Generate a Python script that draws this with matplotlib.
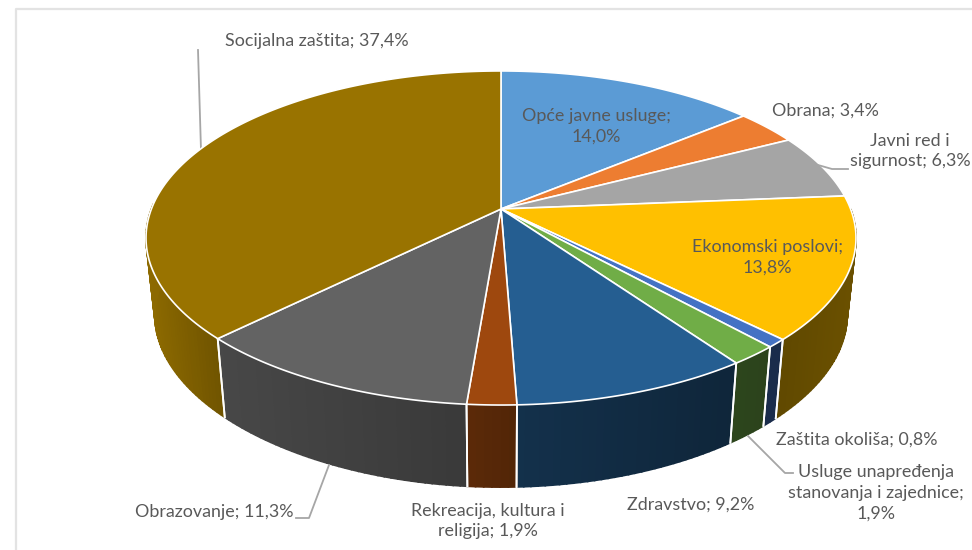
import numpy as np
import matplotlib
matplotlib.use('Agg')
import matplotlib.pyplot as plt
from matplotlib.patches import Polygon

plt.rcParams['font.family'] = ['Lato', 'DejaVu Sans']

# udjeli po kategorijama, redom od vrha u smjeru kazaljke
categories = ['Opće javne usluge', 'Obrana', 'Javni red i sigurnost', 'Ekonomski poslovi',
              'Zaštita okoliša', 'Usluge unapređenja stanovanja i zajednice', 'Zdravstvo',
              'Rekreacija, kultura i religija', 'Obrazovanje', 'Socijalna zaštita']
values = [14.0, 3.4, 6.3, 13.8, 0.8, 1.9, 9.2, 1.9, 11.3, 37.4]
colors = ['#5B9BD5', '#ED7D31', '#A5A5A5', '#FFC000', '#4472C4',
          '#70AD47', '#255E91', '#9E480E', '#636363', '#997300']

# perspektiva: sredina pite na (501, 209), stražnji rub 71, prednji 405
CX, CY = 501, 209
K = 0.1736
A, D = 349.6, 162
SCALE_BOTTOM = 0.975


def top_xy(theta):
    u, v = np.sin(theta), np.cos(theta)
    w = 1 + K * v
    return CX + A * u / w, CY - D * v / w


def bottom_xy(theta):
    x, y = top_xy(theta)
    front = np.clip((y - CY) / 196, 0, 1)
    return CX + (x - CX) * SCALE_BOTTOM, CY + (y - CY) * SCALE_BOTTOM + 78 + 9 * front ** 2


def shade(color, x):
    f = np.interp(x, [146, 222, 466, 514, 735, 786, 857], [0.92, 0.72, 0.58, 0.52, 0.40, 0.38, 0.42])
    return tuple(c * f for c in matplotlib.colors.to_rgb(color))


fig = plt.figure(figsize=(9.72, 5.5), dpi=100)
ax = fig.add_axes([0, 0, 1, 1])
ax.set_xlim(0, 972)
ax.set_ylim(550, 0)
ax.axis('off')

# okvir slike
ax.plot([16, 16, 972], [550, 9, 9], color='#e3e3e3', lw=1.6)

edges = np.radians(np.cumsum([0] + values) * 3.6)

# bočne stijenke (samo prednji dio), trake da se dobije gradijent
for i, col in enumerate(colors):
    a0 = max(edges[i], np.radians(90))
    a1 = min(edges[i + 1], np.radians(272))
    if a1 <= a0:
        continue
    ts = np.linspace(a0, a1, max(2, int((a1 - a0) * 60)))
    for t0, t1 in zip(ts[:-1], ts[1:]):
        xa, ya = top_xy(t0)
        xb, yb = top_xy(t1)
        xc, yc = bottom_xy(t1)
        xd, yd = bottom_xy(t0)
        c = shade(col, (xa + xb) / 2)
        ax.add_patch(Polygon([(xa, ya), (xb, yb), (xc, yc), (xd, yd)], fc=c, ec=c, lw=1.2))
    # bijeli razmak između stijenki
    for t in (a0, a1):
        if np.radians(95) < t < np.radians(265):
            xa, ya = top_xy(t)
            xd, yd = bottom_xy(t)
            ax.plot([xa, xd], [ya, yd], color='white', lw=1.3, zorder=3)

# gornja ploha
for i, col in enumerate(colors):
    ts = np.linspace(edges[i], edges[i + 1], max(3, int((edges[i + 1] - edges[i]) * 80)))
    xs, ys = top_xy(ts)
    pts = [(CX, CY)] + list(zip(xs, ys))
    ax.add_patch(Polygon(pts, fc=col, ec='white', lw=1.2, joinstyle='round', zorder=4))

# oznake
txt = dict(color='#595959', fontsize=12.9, ha='center', va='center', linespacing=1.36, zorder=6)
ax.text(317, 41, 'Socijalna zaštita; 37,4%', **txt)
ax.text(596, 126, 'Opće javne usluge;\n14,0%', **txt)
ax.text(825, 111, 'Obrana; 3,4%', **txt)
ax.text(910, 151, 'Javni red i\nsigurnost; 6,3%', **txt)
ax.text(767, 257, 'Ekonomski poslovi;\n13,8%', **txt)
ax.text(857, 440, 'Zaštita okoliša; 0,8%', **txt)
ax.text(876, 493, 'Usluge unapređenja\nstanovanja i zajednice;\n1,9%', **txt)
ax.text(691, 505, 'Zdravstvo; 9,2%', **txt)
ax.text(488, 521, 'Rekreacija, kultura i\nreligija; 1,9%', **txt)
ax.text(214, 512, 'Obrazovanje; 11,3%', **txt)

# vodilice
lead = dict(color='#a6a6a6', lw=1.3, zorder=2)
ax.plot([198, 201], [50, 150], **lead)
ax.plot([818, 832, 848], [165, 169, 169], zorder=5, color='#a6a6a6', lw=1.3)
ax.plot([748, 785, 793], [436, 473, 473], **lead)
ax.plot([329, 309, 296], [465, 518, 518], **lead)

fig.savefig('out.png', dpi=100)
